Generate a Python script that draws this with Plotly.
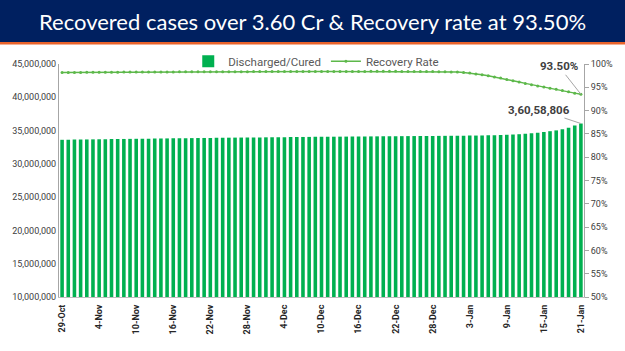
import pandas as pd
import plotly.graph_objects as go
from plotly.subplots import make_subplots

# ---------------- data ----------------
dates = pd.date_range("2021-10-29", "2022-01-21", freq="D")
date_labels = [f"{d.day}-{d.strftime('%b')}" for d in dates]

# Discharged / cured (cumulative), thousands
discharged_k = [
    33614, 33628, 33641,
    33654, 33667, 33680, 33693, 33705, 33716, 33728, 33740, 33753, 33766,
    33778, 33790, 33801, 33812, 33823, 33833, 33845, 33856, 33868, 33879,
    33890, 33901, 33912, 33922, 33932, 33942, 33952, 33961, 33970, 33978,
    33987, 33996, 34004, 34013, 34022, 34031, 34040, 34048, 34056, 34063,
    34071, 34079, 34087, 34095, 34103, 34110, 34117, 34125, 34132, 34139,
    34146, 34154, 34161, 34168, 34175, 34182, 34189, 34196, 34203, 34210,
    34217,
    34225, 34233, 34241, 34251, 34264, 34283, 34306, 34338, 34368, 34409,
    34454, 34514, 34585, 34670, 34789, 34906, 35027, 35185, 35420, 35750,
    36058.806,
]
discharged = [v * 1000 for v in discharged_k]

# Recovery rate, %
recovery_rate = [
    98.19, 98.20, 98.20,
    98.20, 98.21, 98.22, 98.23, 98.23, 98.24, 98.25, 98.26, 98.26, 98.27,
    98.28, 98.28, 98.29, 98.30, 98.30, 98.31, 98.32, 98.32, 98.33, 98.33,
    98.34, 98.34, 98.35, 98.35, 98.35, 98.36, 98.36, 98.36, 98.37, 98.37,
    98.37, 98.38, 98.38, 98.38, 98.38, 98.39, 98.39, 98.39, 98.40, 98.40,
    98.40, 98.40, 98.40, 98.41, 98.41, 98.41, 98.41, 98.42, 98.42, 98.42,
    98.42, 98.42, 98.41, 98.41, 98.40, 98.40, 98.39, 98.38, 98.36, 98.34,
    98.31,
    98.28, 98.20, 98.06, 97.88, 97.68, 97.46, 97.22, 96.97, 96.70, 96.42,
    96.13, 95.84, 95.56, 95.29, 95.04, 94.80, 94.56, 94.30, 94.02, 93.75,
    93.50,
]

tick_labels = date_labels[::6]
left_ticks = [10e6, 15e6, 20e6, 25e6, 30e6, 35e6, 40e6, 45e6]
right_ticks = [50, 55, 60, 65, 70, 75, 80, 85, 90, 95, 100]

title_text = "Recovered cases over 3.60 Cr & Recovery rate at 93.50%"
bar_label = "3,60,58,806"
rate_label = "93.50%"

# ---------------- figure ----------------
fig = make_subplots(specs=[[{"secondary_y": True}]])

fig.add_trace(
    go.Bar(x=date_labels, y=discharged, name="Discharged/Cured",
           marker=dict(color="#00B050", line=dict(width=0))),
    secondary_y=False,
)
fig.add_trace(
    go.Scatter(x=date_labels, y=recovery_rate, name="Recovery Rate",
               mode="lines+markers",
               line=dict(color="#5DB84A", width=1.5),
               marker=dict(color="#5DB84A", size=3)),
    secondary_y=True,
)

FONT = "Roboto, Liberation Sans, sans-serif"
axis_font = dict(family=FONT, size=9, color="#404040")

fig.update_xaxes(
    type="category", domain=[0, 1],
    tickmode="array", tickvals=tick_labels, ticktext=tick_labels,
    tickangle=-90,
    tickfont=dict(family=FONT, size=9, color="#262626", weight="bold"),
    showline=True, linecolor="#BFBFBF", linewidth=1,
    showgrid=False, ticks="outside", ticklen=3, tickcolor="rgba(0,0,0,0)",
    range=[-0.5, len(date_labels) - 0.5],
)
fig.update_yaxes(
    range=[10e6, 45e6], tickvals=left_ticks,
    ticktext=[f"{int(v):,}" for v in left_ticks],
    tickfont=axis_font, showgrid=False,
    showline=True, linecolor="#A6A6A6", linewidth=1, ticks="",
    zeroline=False,
    secondary_y=False,
)
fig.update_yaxes(
    range=[50, 100], tickvals=right_ticks,
    ticktext=[f"{v}%" for v in right_ticks],
    tickfont=axis_font, showgrid=False,
    showline=True, linecolor="#A6A6A6", linewidth=1,
    ticks="outside", ticklen=4, tickcolor="#A6A6A6",
    zeroline=False,
    secondary_y=True,
)

PH = 233.5  # plot height in px
fig.update_layout(
    width=625, height=351,
    margin=dict(l=54, r=33, t=63.5, b=54),
    paper_bgcolor="white", plot_bgcolor="white",
    bargap=0.42,
    showlegend=True,
    legend=dict(orientation="h", x=0.49, xanchor="center", y=1.012, yanchor="middle",
                font=dict(family=FONT, size=11.5, color="#595959"),
                bgcolor="rgba(0,0,0,0)", itemwidth=30, tracegroupgap=0),
)

# banner
fig.add_shape(type="rect", xref="paper", yref="paper",
              x0=-1, x1=2, y0=(297 - 41.5) / PH, y1=(297 + 10) / PH,
              fillcolor="#002060", line=dict(width=0), layer="above")
fig.add_shape(type="rect", xref="paper", yref="paper",
              x0=-1, x1=2, y0=(297 - 44) / PH, y1=(297 - 41.5) / PH,
              fillcolor="#E9632B", line=dict(width=0), layer="above")

fig.add_annotation(
    text=title_text, xref="paper", yref="paper",
    x=(314 - 54) / 538, y=(297 - 21) / PH, xanchor="center", yanchor="middle",
    showarrow=False,
    font=dict(family="Lato, Open Sans, sans-serif", size=22, color="white"),
)

# value labels
last = date_labels[-1]
fig.add_annotation(
    x=last, y=recovery_rate[-1], xref="x", yref="y2",
    text=rate_label, showarrow=True, arrowhead=0, arrowwidth=1, arrowcolor="#A6A6A6",
    ax=-22, ay=-28, xanchor="center", yanchor="middle",
    font=dict(family=FONT, size=11.5, color="#404040", weight="bold"),
)
fig.add_annotation(
    x=last, y=discharged[-1], xref="x", yref="y",
    text=bar_label, showarrow=True, arrowhead=0, arrowwidth=1, arrowcolor="#A6A6A6",
    ax=-42, ay=-14, xanchor="center", yanchor="middle",
    font=dict(family=FONT, size=11.5, color="#404040", weight="bold"),
)

fig.write_html("out.html")
